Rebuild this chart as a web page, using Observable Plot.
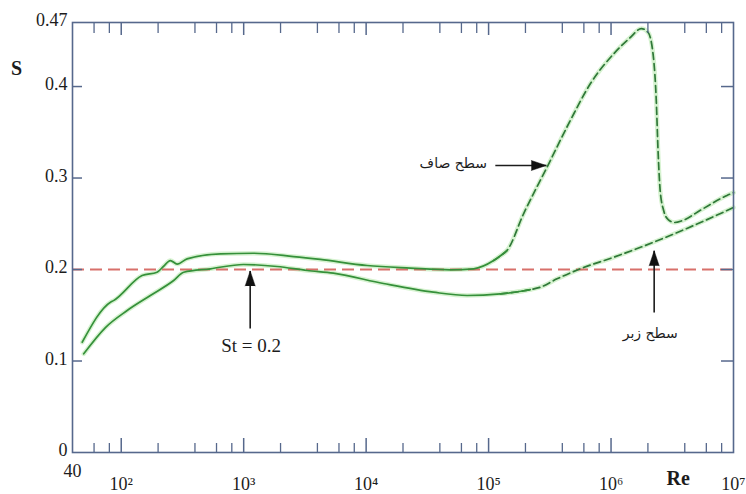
<!DOCTYPE html>
<html>
<head>
<meta charset="utf-8">
<script src="https://cdn.jsdelivr.net/npm/d3@7"></script>
<script src="https://cdn.jsdelivr.net/npm/@observablehq/plot@0.6"></script>
<style>
  html, body { margin: 0; padding: 0; background: #ffffff; }
  #chart { width: 746px; height: 494px; overflow: hidden; }
  #chart svg text { font-family: "Liberation Serif", "DejaVu Serif", serif !important; }
  #chart svg text.arabic, #chart svg g.arabic text { font-family: "DejaVu Sans", sans-serif !important; }
</style>
</head>
<body>
<div id="chart"></div>
<script>
// ---- data ----
const upperSolidRe = [48, 81.7, 86.5, 148, 196, 221, 252, 286, 345, 646, 1200, 2548, 4230, 10180, 22960, 48700, 75500, 110000, 125000, 141500];
const upperSolidS  = [0.1205, 0.1643, 0.166, 0.1934, 0.197, 0.2033, 0.2098, 0.206, 0.2117, 0.2172, 0.2178, 0.2142, 0.211, 0.2044, 0.2016, 0.1997, 0.2008, 0.2098, 0.2150, 0.2208];
const upperDashRe = [110000, 125000, 141500, 193000, 300000, 464500, 677000, 1050000, 1436000, 1770000, 2010000, 2210000, 2340000, 2420000, 2520000, 2690000, 2930000, 3300000, 3820000, 5500000, 8850000, 10000000];
const upperDashS  = [0.2098, 0.2150, 0.2208, 0.2609, 0.3118, 0.3628, 0.403, 0.4357, 0.4536, 0.4634, 0.459, 0.434, 0.385, 0.33, 0.286, 0.2645, 0.2546, 0.2514, 0.2535, 0.2656, 0.281, 0.284];

const lowerSolidRe = [49.4, 74.3, 111.8, 173, 268, 324, 536, 995, 1875, 3297, 5405, 13840, 35400, 66700, 124800, 190000, 219000];
const lowerSolidS  = [0.1079, 0.1366, 0.1552, 0.1716, 0.188, 0.197, 0.2008, 0.2055, 0.2033, 0.1989, 0.196, 0.1847, 0.1752, 0.1716, 0.1734, 0.1765, 0.178];
const lowerDashRe = [124800, 190000, 219000, 264400, 362000, 561000, 1050000, 2220000, 8850000, 10000000];
const lowerDashS  = [0.1734, 0.1765, 0.178, 0.1807, 0.1898, 0.2008, 0.2134, 0.2298, 0.2645, 0.2678];

const strouhal = [0.2];

const majorTicks = [100, 1000, 10000, 100000, 1000000];
const minorTicks = [60, 80, 200, 400, 600, 800, 2000, 4000, 6000, 8000, 20000, 40000, 60000, 80000,
                    200000, 400000, 600000, 800000, 2000000, 4000000, 6000000, 8000000];
const xLabelTicks = [100, 1000, 10000, 100000, 1000000, 10000000];
const xLabelText = ["10\u00B2", "10\u00B3", "10\u2074", "10\u2075", "10\u2076", "10\u2077"];
const xStartLabel = [{re: 40, text: "40"}];
const yTicks = [0.1, 0.2, 0.3, 0.4];
const yLabelTicks = [0, 0.1, 0.2, 0.3, 0.4, 0.47];
const yLabelText = ["0", "0.1", "0.2", "0.3", "0.4", "0.47"];

const stLabel = [{re: 1150, s: 0.117, text: "St = 0.2"}];
const arabicLabels = [
  {re: 51500, s: 0.316, text: "سطح صاف"},
  {re: 2090000, s: 0.130, text: "سطح زبر"}
];
const arrows = [
  {x1: 1130, y1: 0.1355, x2: 1130, y2: 0.1985, rotate: 0},
  {x1: 113500, y1: 0.3137, x2: 296000, y2: 0.3137, rotate: 90},
  {x1: 2250000, y1: 0.153, x2: 2250000, y2: 0.2205, rotate: 0}
];

// ---- layout ----
const W = 746, H = 494, mL = 72, mR = 13, mT = 22, mB = 42;
const fw = W - mL - mR, fh = H - mT - mB;
const axisColor = "#56688c";
const green = "#35903a";
const dashGreen = "#2f7838";
const halo = "#d6f2d0";

const zip = (xs, ys) => xs.map((x, i) => ({x, y: ys[i]}));
const uS = zip(upperSolidRe, upperSolidS), uD = zip(upperDashRe, upperDashS);
const lS = zip(lowerSolidRe, lowerSolidS), lD = zip(lowerDashRe, lowerDashS);
const curve = "monotone-x";

const chart = Plot.plot({
  width: W, height: H,
  marginLeft: mL, marginRight: mR, marginTop: mT, marginBottom: mB,
  style: {fontSize: "19px", background: "#ffffff", color: "#1c1c1c"},
  x: {type: "log", domain: [40, 1e7]},
  y: {domain: [0, 0.47]},
  marks: [
    ...[uS, uD, lS, lD].map(d => Plot.line(d, {x: "x", y: "y", stroke: halo, strokeWidth: 4.5, curve})),
    Plot.ruleY(strouhal, {stroke: "#d8706b", strokeWidth: 2, strokeDasharray: "12,6"}),
    Plot.line(uD, {x: "x", y: "y", stroke: dashGreen, strokeWidth: 1.7, strokeDasharray: "7,4", curve}),
    Plot.line(lD, {x: "x", y: "y", stroke: dashGreen, strokeWidth: 1.7, strokeDasharray: "7,4", curve}),
    Plot.line(uS, {x: "x", y: "y", stroke: green, strokeWidth: 1.7, curve}),
    Plot.line(lS, {x: "x", y: "y", stroke: green, strokeWidth: 1.7, curve}),
    Plot.tickX(majorTicks, {x: d => d, insetTop: fh - 14, stroke: axisColor, strokeWidth: 1.5}),
    Plot.tickX(minorTicks, {x: d => d, insetTop: fh - 9, stroke: axisColor, strokeWidth: 1.3}),
    Plot.tickX(majorTicks, {x: d => d, insetBottom: fh - 13, stroke: axisColor, strokeWidth: 1.5}),
    Plot.tickX(minorTicks, {x: d => d, insetBottom: fh - 11, stroke: axisColor, strokeWidth: 1.3}),
    Plot.tickY(yTicks, {y: d => d, insetRight: fw - 10, stroke: axisColor, strokeWidth: 1.5}),
    Plot.tickY(yTicks, {y: d => d, insetLeft: fw - 12, stroke: axisColor, strokeWidth: 1.5}),
    Plot.frame({stroke: axisColor, strokeWidth: 1.6}),
    Plot.axisX(xLabelTicks, {tickSize: 0, tickPadding: 25, tickFormat: d => xLabelText[xLabelTicks.indexOf(d)], fontSize: 18}),
    Plot.text(xStartLabel, {x: "re", frameAnchor: "bottom", dy: 24, text: "text", fontSize: 18, textAnchor: "middle", fill: "#1c1c1c"}),
    Plot.axisY(yLabelTicks, {tickSize: 0, tickPadding: 5, tickFormat: d => yLabelText[yLabelTicks.indexOf(d)], fontSize: 18, dy: -2}),
    Plot.text(["S"], {frameAnchor: "top-left", dx: -56, dy: 38, text: d => d, fontWeight: "bold", fontSize: 20, textAnchor: "middle"}),
    Plot.text(["Re"], {x: () => 3.54e6, frameAnchor: "bottom", dy: 32, text: d => d, fontWeight: "bold", fontSize: 20, textAnchor: "middle"}),
    Plot.text(stLabel, {x: "re", y: "s", text: "text", fontSize: 19, textAnchor: "middle", fill: "#1c1c1c"}),
    Plot.text(arabicLabels, {x: "re", y: "s", text: "text", fontSize: 14, className: "arabic", textAnchor: "middle", fill: "#1c1c1c"}),
    Plot.link(arrows, {x1: "x1", y1: "y1", x2: "x2", y2: "y2", stroke: "#1c1c1c", strokeWidth: 1.6}),
    Plot.vector(arrows, {x: "x2", y: "y2", rotate: "rotate", length: 15, r: 5, shape: "spike", anchor: "end", fill: "#111", stroke: "#111", strokeWidth: 0.5})
  ]
});
document.getElementById("chart").appendChild(chart);
</script>
</body>
</html>
